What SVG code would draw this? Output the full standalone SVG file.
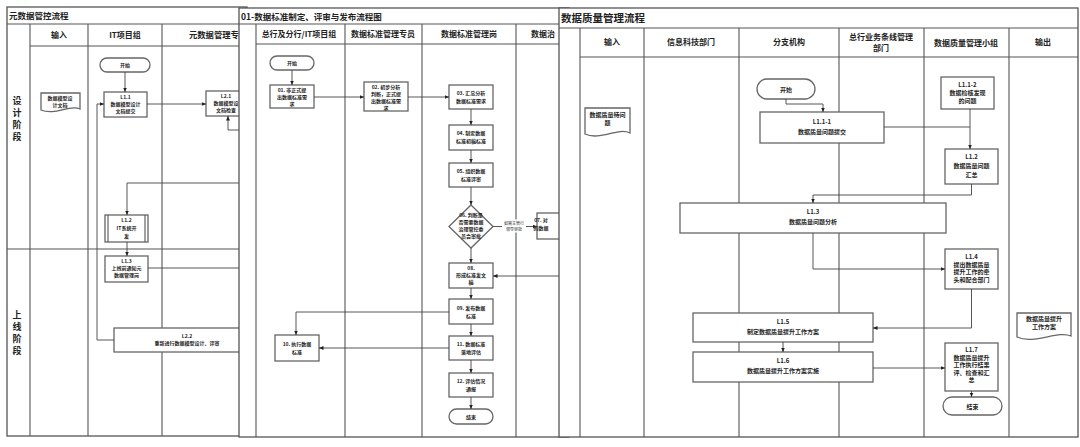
<svg xmlns="http://www.w3.org/2000/svg" width="1080" height="447" viewBox="0 0 1080 447">
<style>
text{font-family:"Noto Sans CJK SC","Liberation Sans",sans-serif;fill:#222}
.frame{fill:#fff;stroke:#555;stroke-width:1.3}
.grid{stroke:#555;stroke-width:1.1;fill:none}
.box{fill:#fff;stroke:#666;stroke-width:1.3}
.conn{stroke:#444;stroke-width:0.9;fill:none}
.ttl{font-weight:bold}
.hd{font-weight:bold;text-anchor:middle}
.n5{font-size:5px;font-weight:bold;text-anchor:middle}
.n6{font-size:6px;font-weight:bold;text-anchor:middle}
.sg{font-size:9px;font-weight:bold;text-anchor:middle}
</style>
<defs>
<marker id="ah" markerWidth="5" markerHeight="5" refX="4.5" refY="2.5" orient="auto" markerUnits="userSpaceOnUse">
<path d="M0,0.5 L4.5,2.5 L0,4.5 Z" fill="#222"/>
</marker>
</defs>
<rect width="1080" height="447" fill="#fff"/>

<!-- LEFT PANEL -->
<g id="panel-left">
<rect class="frame" x="7" y="7" width="240" height="429"/>
<line class="grid" x1="7" y1="24" x2="247" y2="24"/>
<line class="grid" x1="30" y1="46" x2="247" y2="46"/>
<line class="grid" x1="30" y1="24" x2="30" y2="436"/>
<line class="grid" x1="88" y1="24" x2="88" y2="436"/>
<line class="grid" x1="162" y1="24" x2="162" y2="436"/>
<line class="grid" x1="7" y1="249" x2="247" y2="249"/>
<text class="ttl" x="9" y="19" font-size="8.5">元数据管控流程</text>
<text class="hd" x="59" y="38" font-size="8">输入</text>
<text class="hd" x="125" y="38" font-size="8">IT项目组</text>
<text class="ttl" x="189" y="38" font-size="8.3">元数据管理专</text>
<g class="sg" font-size="9.5"><text x="17" y="104">设</text><text x="17" y="116">计</text><text x="17" y="128">阶</text><text x="17" y="140">段</text></g>
<g class="sg"><text x="17" y="318">上</text><text x="17" y="330">线</text><text x="17" y="342">阶</text><text x="17" y="354">段</text></g>
</g>
<g id="l-input-doc">
<path class="box" d="M41,93 H80 V109 C70,104 55,116 41,110 Z"/>
<text class="n5" x="60" y="100">数据模型设</text><text class="n5" x="60" y="106.5">计文档</text>
</g>
<g id="l-start"><rect class="box" x="100" y="58" width="50" height="14" rx="7"/><text class="n5" x="125" y="67">开始</text></g>
<g id="l-L1-1"><rect class="box" x="104" y="92" width="43" height="25"/><text class="n5" x="125.5" y="99">L1.1</text><text class="n5" x="125.5" y="106">数据模型设计</text><text class="n5" x="125.5" y="113">文档提交</text></g>
<g id="l-L2-1"><rect class="box" x="206" y="91" width="45" height="25"/><text class="n5" x="226" y="98">L2.1</text><text class="n5" x="226" y="105">数据模型设</text><text class="n5" x="226" y="112">文档检查</text></g>
<g id="l-L1-2"><rect class="box" x="105" y="215" width="43" height="27"/><line class="grid" x1="108" y1="215" x2="108" y2="242"/><line class="grid" x1="145" y1="215" x2="145" y2="242"/><text class="n5" x="126.5" y="222">L1.2</text><text class="n5" x="126.5" y="230">IT系统开</text><text class="n5" x="126.5" y="238">发</text></g>
<g id="l-L1-3"><rect class="box" x="105" y="256" width="43" height="26"/><text class="n5" x="126.5" y="263">L1.3</text><text class="n5" x="126.5" y="270">上线前通知元</text><text class="n5" x="126.5" y="277">数据管理岗</text></g>
<g id="l-L2-2"><rect class="box" x="114" y="328" width="130" height="24"/><text class="n5" x="187" y="338">L2.2</text><text class="n5" x="187" y="345">重新进行数据模型设计、评审</text></g>
<g id="l-connectors">
<path class="conn" d="M125,72 V92" marker-end="url(#ah)"/>
<path class="conn" d="M147,104 H206" marker-end="url(#ah)"/>
<path class="conn" d="M240,130 H228 V116" marker-end="url(#ah)"/>
<path class="conn" d="M240,183 H127 V215" marker-end="url(#ah)"/>
<path class="conn" d="M127,242 V256" marker-end="url(#ah)"/>
<path class="conn" d="M148,268 H240"/>
<path class="conn" d="M114,340 H97 V104 H104" marker-end="url(#ah)"/>
</g>

<!-- MIDDLE PANEL -->
<g id="panel-middle">
<rect class="frame" x="239" y="8" width="330" height="429"/>
<line class="grid" x1="239" y1="24" x2="569" y2="24"/>
<line class="grid" x1="256" y1="44" x2="569" y2="44"/>
<line class="grid" x1="256" y1="24" x2="256" y2="437"/>
<line class="grid" x1="345" y1="24" x2="345" y2="437"/>
<line class="grid" x1="422" y1="24" x2="422" y2="437"/>
<line class="grid" x1="516" y1="24" x2="516" y2="437"/>
<text x="241" y="19.5" font-size="8.5" font-weight="bold" font-family="Liberation Serif,Noto Sans CJK SC,serif">01-数据标准制定、评审与发布流程图</text>
<text class="hd" x="299" y="37" font-size="8">总行及分行/IT项目组</text>
<text class="hd" x="383" y="37" font-size="8">数据标准管理专员</text>
<text class="hd" x="469" y="37" font-size="8">数据标准管理岗</text>
<text x="531" y="37" font-size="8" font-weight="bold">数据治</text>
</g>
<g id="m-start"><rect class="box" x="270" y="56" width="44" height="14" rx="7"/><text class="n5" x="292" y="65">开始</text></g>
<g id="m-01"><rect class="box" x="270" y="85" width="44" height="23"/><text class="n5" x="292" y="92">01. 非正式提</text><text class="n5" x="292" y="99">出数据标准需</text><text class="n5" x="292" y="106">求</text></g>
<g id="m-02"><rect class="box" x="364" y="82" width="44" height="29"/><text class="n5" x="386" y="89">02. 初步分析</text><text class="n5" x="386" y="96">判断，正式提</text><text class="n5" x="386" y="103">出数据标准需</text><text class="n5" x="386" y="109.5">求</text></g>
<g id="m-03"><rect class="box" x="449" y="85" width="44" height="24"/><text class="n5" x="471" y="95">03. 汇总分析</text><text class="n5" x="471" y="103">数据标准需求</text></g>
<g id="m-04"><rect class="box" x="449" y="125" width="44" height="25"/><text class="n5" x="471" y="135">04. 制定数据</text><text class="n5" x="471" y="143">标准初稿标准</text></g>
<g id="m-05"><rect class="box" x="449" y="163" width="44" height="24"/><text class="n5" x="471" y="173">05. 组织数据</text><text class="n5" x="471" y="181">标准评审</text></g>
<g id="m-06"><path class="box" d="M471,205 L493,226.5 L471,248 L449,226.5 Z"/><text class="n5" x="471" y="217">06. 判断是</text><text class="n5" x="471" y="224">否需要数据</text><text class="n5" x="471" y="231">治理管控委</text><text class="n5" x="471" y="238">员会审批</text></g>
<g id="m-07"><rect class="box" x="537" y="213" width="40" height="26"/><text class="n5" x="541" y="222" text-anchor="start">07. 对</text><text class="n5" x="541" y="230" text-anchor="start">的数据</text></g>
<g id="m-08"><rect class="box" x="449" y="263" width="44" height="25"/><text class="n5" x="471" y="270">08.</text><text class="n5" x="471" y="277">形成标准发文</text><text class="n5" x="471" y="284">稿</text></g>
<g id="m-09"><rect class="box" x="449" y="299" width="44" height="25"/><text class="n5" x="471" y="310">09. 发布数据</text><text class="n5" x="471" y="318">标准</text></g>
<g id="m-10"><rect class="box" x="275" y="335" width="44" height="26"/><text class="n5" x="297" y="346">10. 执行数据</text><text class="n5" x="297" y="354">标准</text></g>
<g id="m-11"><rect class="box" x="449" y="336" width="44" height="24"/><text class="n5" x="471" y="346">11. 数据标准</text><text class="n5" x="471" y="354">落地评估</text></g>
<g id="m-12"><rect class="box" x="449" y="373" width="44" height="24"/><text class="n5" x="471" y="383">12. 评估情况</text><text class="n5" x="471" y="391">通报</text></g>
<g id="m-end"><rect class="box" x="449" y="409" width="44" height="15" rx="7.5"/><text class="n5" x="471" y="418.5">结束</text></g>
<g id="m-connectors">
<path class="conn" d="M292,70 V85" marker-end="url(#ah)"/>
<path class="conn" d="M314,97 H364" marker-end="url(#ah)"/>
<path class="conn" d="M408,97 H449" marker-end="url(#ah)"/>
<path class="conn" d="M471,109 V125" marker-end="url(#ah)"/>
<path class="conn" d="M471,150 V163" marker-end="url(#ah)"/>
<path class="conn" d="M471,187 V205" marker-end="url(#ah)"/>
<path class="conn" d="M493,226.5 H537" marker-end="url(#ah)"/>
<rect x="502" y="219.5" width="24" height="13" fill="#fff"/>
<text x="514" y="224.5" font-size="4" text-anchor="middle">如需主管行</text>
<text x="514" y="231" font-size="4" text-anchor="middle">领导审批</text>
<path class="conn" d="M471,248 V263" marker-end="url(#ah)"/>
<path class="conn" d="M560,276 H493" marker-end="url(#ah)"/>
<path class="conn" d="M471,288 V299" marker-end="url(#ah)"/>
<path class="conn" d="M449,312 H296 V335" marker-end="url(#ah)"/>
<path class="conn" d="M471,324 V336" marker-end="url(#ah)"/>
<path class="conn" d="M449,348 H319" marker-end="url(#ah)"/>
<path class="conn" d="M471,360 V373" marker-end="url(#ah)"/>
<path class="conn" d="M471,397 V409" marker-end="url(#ah)"/>
</g>

<!-- RIGHT PANEL -->
<g id="panel-right">
<rect class="frame" x="559" y="8" width="519" height="429"/>
<line class="grid" x1="559" y1="28" x2="1078" y2="28"/>
<line class="grid" x1="580" y1="57" x2="1078" y2="57"/>
<line class="grid" x1="580" y1="28" x2="580" y2="437"/>
<line class="grid" x1="644" y1="28" x2="644" y2="437"/>
<line class="grid" x1="739" y1="28" x2="739" y2="437"/>
<line class="grid" x1="839" y1="28" x2="839" y2="437"/>
<line class="grid" x1="924" y1="28" x2="924" y2="437"/>
<line class="grid" x1="1009" y1="28" x2="1009" y2="437"/>
<text class="ttl" x="561" y="21.5" font-size="10.5">数据质量管理流程</text>
<text class="hd" x="612" y="45" font-size="8">输入</text>
<text class="hd" x="691" y="45" font-size="8">信息科技部门</text>
<text class="hd" x="789" y="45" font-size="8">分支机构</text>
<text class="hd" x="881" y="40" font-size="8">总行业务条线管理</text>
<text class="hd" x="881" y="51" font-size="8">部门</text>
<text class="hd" x="966" y="46" font-size="8">数据质量管理小组</text>
<text class="hd" x="1043" y="45" font-size="8">输出</text>
</g>
<g id="r-input-doc">
<path class="box" d="M585,108 H630 V133 C618,127 600,141 585,134 Z"/>
<text class="n6" x="607.5" y="117" font-weight="normal">数据质量待问</text><text class="n6" x="607.5" y="124.5" font-weight="normal">题</text>
</g>
<g id="r-start"><rect class="box" x="757" y="79" width="58" height="20" rx="10"/><text class="n6" x="786" y="91.5">开始</text></g>
<g id="r-L1-1-1"><rect class="box" x="760" y="112" width="124" height="31"/><text class="n6" x="822" y="124">L1.1-1</text><text class="n6" x="822" y="134">数据质量问题提交</text></g>
<g id="r-L1-1-2"><rect class="box" x="941" y="77" width="53" height="32"/><text class="n6" x="967.5" y="87">L1.1-2</text><text class="n6" x="967.5" y="95">数据检核发现</text><text class="n6" x="967.5" y="103">的问题</text></g>
<g id="r-L1-2"><rect class="box" x="945" y="149" width="53" height="35"/><text class="n6" x="971.5" y="159">L1.2</text><text class="n6" x="971.5" y="168">数据质量问题</text><text class="n6" x="971.5" y="177">汇总</text></g>
<g id="r-L1-3"><rect class="box" x="680" y="203" width="266" height="30"/><text class="n6" x="813" y="214">L1.3</text><text class="n6" x="813" y="224">数据质量问题分析</text></g>
<g id="r-L1-4"><rect class="box" x="945" y="249" width="53" height="40"/><text class="n6" x="971.5" y="259">L1.4</text><text class="n6" x="971.5" y="266.5">提出数据质量</text><text class="n6" x="971.5" y="274">提升工作的牵</text><text class="n6" x="971.5" y="281.5">头和配合部门</text></g>
<g id="r-L1-5"><rect class="box" x="693" y="313" width="180" height="29"/><text class="n6" x="783" y="324">L1.5</text><text class="n6" x="783" y="334">制定数据质量提升工作方案</text></g>
<g id="r-L1-6"><rect class="box" x="693" y="352" width="180" height="30"/><text class="n6" x="783" y="363">L1.6</text><text class="n6" x="783" y="373">数据质量提升工作方案实施</text></g>
<g id="r-L1-7"><rect class="box" x="945" y="343" width="53" height="48"/><text class="n6" x="971.5" y="352">L1.7</text><text class="n6" x="971.5" y="359.5">数据质量提升</text><text class="n6" x="971.5" y="367">工作执行结果</text><text class="n6" x="971.5" y="374.5">评、检查和汇</text><text class="n6" x="971.5" y="382">总</text></g>
<g id="r-end"><rect class="box" x="943" y="397" width="59" height="18" rx="9"/><text class="n6" x="972.5" y="408.5">结束</text></g>
<g id="r-output-doc">
<path class="box" d="M1017,313 H1071 V336 C1058,330 1034,345 1017,337 Z"/>
<text class="n6" x="1044" y="321" font-weight="normal">数据质量提升</text><text class="n6" x="1044" y="329" font-weight="normal">工作方案</text>
</g>
<g id="r-connectors">
<path class="conn" d="M786,99 V104 H823 V112" marker-end="url(#ah)"/>
<path class="conn" d="M884,127 H970"/>
<path class="conn" d="M970,109 V149" marker-end="url(#ah)"/>
<path class="conn" d="M971.5,184 V195 H813 V203" marker-end="url(#ah)"/>
<path class="conn" d="M813,233 V269 H945" marker-end="url(#ah)"/>
<path class="conn" d="M971.5,289 V328 H873" marker-end="url(#ah)"/>
<path class="conn" d="M783,342 V352" marker-end="url(#ah)"/>
<path class="conn" d="M873,368 H945" marker-end="url(#ah)"/>
<path class="conn" d="M971.5,391 V397" marker-end="url(#ah)"/>
</g>
</svg>
